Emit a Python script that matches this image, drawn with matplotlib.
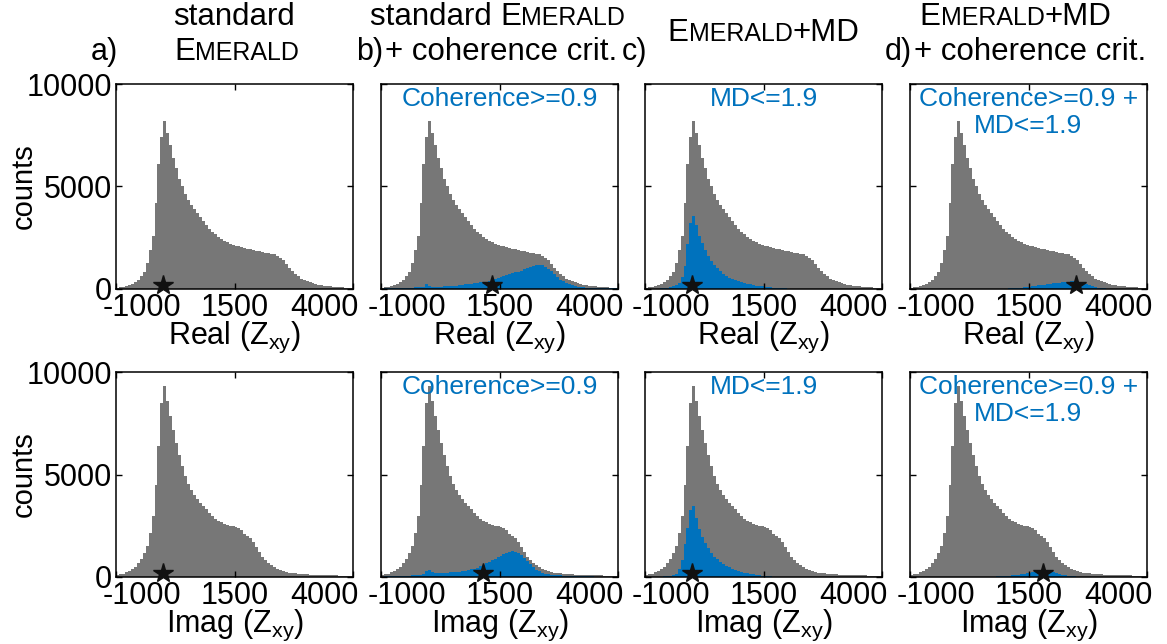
import matplotlib.pyplot as plt
import numpy as np
from matplotlib.offsetbox import TextArea, HPacker, AnnotationBbox
from matplotlib.transforms import ScaledTranslation

plt.rcParams['font.family'] = ['Liberation Sans', 'DejaVu Sans']
plt.rcParams['mathtext.default'] = 'regular'
plt.rcParams['axes.unicode_minus'] = False

GRAY = '#777777'
BLUE = '#0072BD'

# histogram bins: 80 bins between -1000 and 4000
x_min, x_max, n_bins = -1000, 4000, 80
edges = np.linspace(x_min, x_max, n_bins + 1)

# all estimates
real_all = [60, 80, 100, 130, 180, 240, 320, 450, 620, 850,
            1250, 1900, 2600, 4200, 6100, 7400, 8200, 7600, 7000, 6400,
            5900, 5350, 5000, 4650, 4350, 4080, 3880, 3700, 3520, 3300,
            3120, 2920, 2780, 2660, 2540, 2440, 2360, 2280, 2210, 2170,
            2120, 2090, 2050, 2010, 1970, 1940, 1900, 1860, 1830, 1810,
            1780, 1760, 1730, 1690, 1630, 1530, 1400, 1220, 1030, 860,
            730, 610, 500, 430, 370, 320, 280, 250, 215, 190,
            170, 150, 135, 120, 105, 90, 75, 60, 50, 40]
imag_all = [90, 130, 170, 220, 300, 380, 500, 680, 880, 1150,
            1500, 2150, 3000, 4500, 6400, 8500, 9300, 8600, 7850, 7150,
            6550, 5950, 5400, 4950, 4550, 4250, 4000, 3800, 3620, 3450,
            3300, 3120, 2980, 2850, 2740, 2660, 2600, 2550, 2510, 2470,
            2440, 2380, 2270, 2120, 2020, 1900, 1700, 1470, 1220, 1000,
            840, 700, 580, 470, 390, 330, 280, 240, 210, 190,
            175, 160, 150, 140, 130, 120, 115, 110, 105, 100,
            95, 90, 85, 80, 75, 70, 65, 60, 55, 50]

# coherence >= 0.9
real_coh = [20, 25, 30, 35, 40, 45, 50, 55, 60, 65,
            70, 75, 80, 85, 120, 220, 160, 110, 110, 115,
            120, 130, 140, 150, 160, 170, 185, 200, 220, 240,
            260, 280, 300, 320, 340, 365, 390, 430, 480, 540,
            590, 630, 670, 720, 770, 810, 850, 900, 960, 1020,
            1070, 1110, 1160, 1180, 1150, 1080, 990, 860, 710, 580,
            460, 370, 290, 230, 180, 140, 110, 90, 75, 65,
            55, 50, 45, 40, 38, 35, 32, 30, 28, 25]
imag_coh = [20, 25, 30, 35, 40, 45, 50, 55, 60, 70,
            80, 90, 100, 120, 160, 300, 340, 220, 190, 190,
            200, 205, 210, 220, 230, 245, 260, 280, 300, 330,
            370, 410, 460, 520, 590, 660, 740, 820, 900, 980,
            1040, 1100, 1160, 1210, 1250, 1240, 1180, 1080, 930, 780,
            620, 480, 360, 270, 210, 170, 140, 120, 105, 90,
            80, 70, 62, 55, 50, 45, 40, 36, 32, 30,
            28, 26, 24, 22, 20, 18, 16, 15, 14, 12]

# MD <= 1.9
real_md = [0, 0, 5, 10, 15, 25, 35, 55, 80, 130,
           200, 300, 600, 1100, 2200, 3200, 3550, 3100, 2600, 2250,
           1900, 1620, 1380, 1180, 1000, 860, 740, 640, 550, 480,
           420, 370, 320, 280, 250, 220, 190, 165, 145, 125,
           110, 95, 80, 65, 55, 45, 35, 28, 20, 15,
           10, 8, 6, 5, 4, 3, 2, 2, 1, 1,
           0, 0, 0, 0, 0, 0, 0, 0, 0, 0,
           0, 0, 0, 0, 0, 0, 0, 0, 0, 0]
imag_md = [0, 0, 0, 5, 10, 15, 25, 35, 50, 90,
           160, 400, 850, 1600, 2400, 3250, 3450, 2900, 2350, 1950,
           1650, 1400, 1180, 1000, 860, 740, 640, 550, 470, 410,
           350, 300, 250, 210, 180, 150, 125, 100, 80, 65,
           50, 40, 30, 22, 15, 10, 6, 4, 2, 1,
           0, 0, 0, 0, 0, 0, 0, 0, 0, 0,
           0, 0, 0, 0, 0, 0, 0, 0, 0, 0,
           0, 0, 0, 0, 0, 0, 0, 0, 0, 0]

# coherence >= 0.9 and MD <= 1.9
real_coh_md = [0, 0, 0, 0, 0, 0, 0, 0, 0, 0,
               0, 0, 0, 0, 0, 0, 0, 0, 0, 0,
               0, 0, 0, 0, 0, 0, 0, 0, 0, 0,
               5, 10, 15, 25, 35, 45, 55, 70, 85, 100,
               120, 140, 160, 180, 200, 215, 230, 250, 270, 290,
               310, 330, 350, 365, 375, 380, 375, 340, 290, 230,
               180, 130, 95, 70, 50, 30, 15, 5, 0, 0,
               0, 0, 0, 0, 0, 0, 0, 0, 0, 0]
imag_coh_md = [0, 0, 0, 0, 0, 0, 0, 0, 0, 0,
               0, 0, 0, 0, 0, 0, 0, 0, 0, 0,
               0, 0, 0, 0, 0, 0, 5, 10, 18, 25,
               35, 45, 55, 70, 85, 100, 120, 140, 160, 180,
               200, 225, 250, 270, 285, 290, 280, 255, 220, 185,
               150, 120, 90, 65, 45, 30, 18, 8, 3, 0,
               0, 0, 0, 0, 0, 0, 0, 0, 0, 0,
               0, 0, 0, 0, 0, 0, 0, 0, 0, 0]

# stars: final estimate per panel
star_real = [0, 1350, 0, 2500]
star_imag = [0, 1150, 0, 1800]

filter_labels = [None, 'Coherence>=0.9', 'MD<=1.9', 'Coherence>=0.9 +\nMD<=1.9']
panel_labels = ['a)', 'b)', 'c)', 'd)']
xlabels = ['Real (Z$_{xy}$)', 'Imag (Z$_{xy}$)']
xticks = [-1000, 1500, 4000]

rows = [
    (real_all, [None, real_coh, real_md, real_coh_md], star_real),
    (imag_all, [None, imag_coh, imag_md, imag_coh_md], star_imag),
]

W, H = 1167, 644
col_left = [116, 381, 645, 910]
row_top = [84, 372]
ax_w, ax_h = 237, 205
# the end labels sit inside the box edges (pixels)
label_shift = [26, 0, -29]

fig = plt.figure(figsize=(W / 100, H / 100), dpi=100)


def px(dx, dy=0):
    return ScaledTranslation(dx / 100, dy / 100, fig.dpi_scale_trans)


for r, (all_counts, subsets, stars) in enumerate(rows):
    for c in range(4):
        ax = fig.add_axes([col_left[c] / W, 1 - (row_top[r] + ax_h) / H,
                           ax_w / W, ax_h / H])
        ax.stairs(all_counts, edges, fill=True, color=GRAY, lw=0)
        if subsets[c] is not None:
            ax.stairs(subsets[c], edges, fill=True, color=BLUE, lw=0)
        ax.plot(stars[c], 0, marker='*', ms=15, color='#111111',
                clip_on=False, zorder=5, transform=ax.transData + px(0, 4))
        ax.set_xlim(x_min, x_max)
        ax.set_ylim(0, 10000)
        ax.set_xticks(xticks)
        ax.set_yticks([0, 5000, 10000])
        ax.tick_params(direction='in', top=True, right=True, length=4,
                       width=1, labelsize=22, pad=3)
        for lab, dx in zip(ax.get_xticklabels(), label_shift):
            lab.set_transform(lab.get_transform() + px(dx))
        if c > 0:
            ax.set_yticklabels([])
        for sp in ax.spines.values():
            sp.set_linewidth(1.1)
        ax.set_xlabel(xlabels[r], fontsize=22, labelpad=-2.5)
        if filter_labels[c]:
            ax.text(0.5, 0.985, filter_labels[c], transform=ax.transAxes,
                    ha='center', va='top', color=BLUE, fontsize=19,
                    linespacing=1.15)
    fig.text(24 / W, 1 - (row_top[r] + ax_h / 2) / H, 'counts',
             rotation=90, ha='center', va='center', fontsize=21)


def title_line(parts, size=22.5):
    boxes = [TextArea(txt, textprops=dict(fontsize=size * 0.8 if small else size))
             for txt, small in parts]
    return HPacker(children=boxes, align='baseline', pad=0, sep=0)


emerald = [('E', False), ('MERALD', True)]
titles = [
    [[('standard', False)], emerald],
    [[('standard ', False)] + emerald, [('+ coherence crit.', False)]],
    [emerald + [('+MD', False)]],
    [emerald + [('+MD', False)], [('+ coherence crit.', False)]],
]
# small horizontal nudges for the first title line (pixels)
title_nudge = [0, -2, 0, -13]

for c, lines in enumerate(titles):
    xc = col_left[c] + ax_w / 2
    ys = [33] if len(lines) == 1 else [17, 52]
    for k, (parts, y) in enumerate(zip(lines, ys)):
        x = xc + (title_nudge[c] if k == 0 else 2)
        ab = AnnotationBbox(title_line(parts), (x / W, 1 - y / H),
                            xycoords='figure fraction', box_alignment=(0.5, 0.5),
                            frameon=False, pad=0)
        fig.add_artist(ab)
    fig.text((col_left[c] + 2) / W, 1 - 52 / H, panel_labels[c],
             ha='right', va='center', fontsize=22)

fig.savefig('out.png', dpi=100)
